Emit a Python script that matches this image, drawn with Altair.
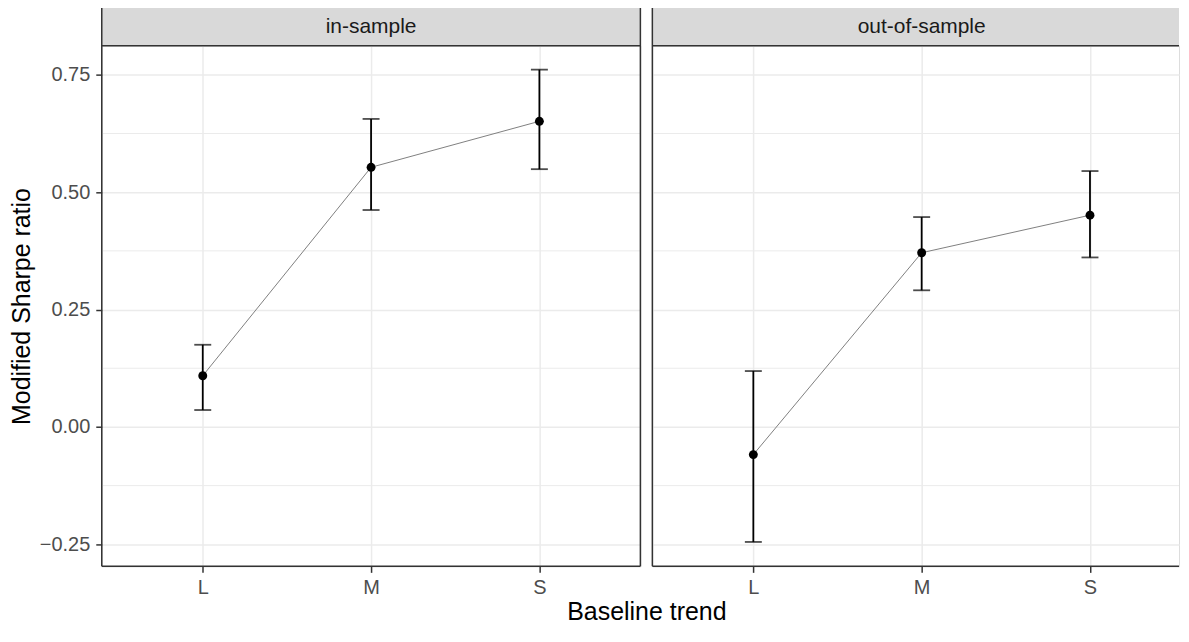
import altair as alt
import pandas as pd

# ---- data ----
trend = ["L", "M", "S"]
in_est = [0.109, 0.553, 0.651]
in_lo = [0.036, 0.462, 0.549]
in_hi = [0.175, 0.656, 0.761]
out_est = [-0.059, 0.371, 0.451]
out_lo = [-0.245, 0.291, 0.361]
out_hi = [0.119, 0.447, 0.545]
y_ticks = [-0.25, 0.0, 0.25, 0.5, 0.75]
y_minor = [-0.125, 0.125, 0.375, 0.625]
y_domain = [-0.297, 0.812]

FONT = "Liberation Sans"
BORDER = "#333333"
GRID = "#EBEBEB"
H = 522
W_FULL = 540
W_RIGHT = 528
TICK_FS = 20
STRIP_FS = 21
TITLE_FS = 25


def panel(name, est, lo, hi, width, first):
    df = pd.DataFrame({"trend": trend, "est": est, "lo": lo, "hi": hi})
    minor = pd.DataFrame({"y": y_minor})
    one = pd.DataFrame({"panel": [name]})

    if first:
        xscale = alt.Scale(type="point", domain=trend, padding=0.6)
    else:
        # same category spacing as the left panel, panel cut off at the right edge
        xscale = alt.Scale(type="point", domain=trend, padding=0.5644, align=0.5315)
    yscale = alt.Scale(domain=y_domain, nice=False, zero=False)

    if first:
        yaxis = alt.Axis(values=y_ticks, format=".2f", title="Modified Sharpe ratio",
                         labelFontSize=TICK_FS, labelColor="#4D4D4D", labelFont=FONT,
                         titleFontSize=TITLE_FS, titleFont=FONT, titleFontWeight="normal",
                         titleColor="#000000", titlePadding=5,
                         tickSize=6, tickColor=BORDER, tickWidth=1.5, labelPadding=6,
                         domain=False, grid=True, gridColor=GRID, gridWidth=1.5)
        xaxis = alt.Axis(title="Baseline trend", titleX=546, titleAlign="center",
                         titleFontSize=TITLE_FS, titleFont=FONT, titleFontWeight="normal",
                         titleColor="#000000", titlePadding=2,
                         labelAngle=0, labelFontSize=TICK_FS, labelColor="#4D4D4D", labelFont=FONT,
                         tickSize=6, tickColor=BORDER, tickWidth=1.5, labelPadding=5,
                         domain=False, grid=True, gridColor=GRID, gridWidth=1.5)
    else:
        yaxis = alt.Axis(values=y_ticks, labels=False, ticks=False, title=None,
                         domain=False, grid=True, gridColor=GRID, gridWidth=1.5)
        xaxis = alt.Axis(title=None, labelAngle=0, labelFontSize=TICK_FS, labelColor="#4D4D4D",
                         labelFont=FONT, tickSize=6, tickColor=BORDER, tickWidth=1.5,
                         labelPadding=5, domain=False, grid=True, gridColor=GRID, gridWidth=1.5)

    base = alt.Chart(df).encode(x=alt.X("trend:N", scale=xscale, axis=xaxis))

    minor_grid = alt.Chart(minor).mark_rule(color=GRID, strokeWidth=1).encode(
        y=alt.Y("y:Q", scale=yscale, axis=yaxis),
        x=alt.value(0), x2=alt.value(width))

    line = base.mark_line(color="#808080", strokeWidth=1).encode(
        y=alt.Y("est:Q", scale=yscale))
    bars = base.mark_rule(color="#000000", strokeWidth=1.8).encode(
        y=alt.Y("lo:Q", scale=yscale), y2="hi:Q")
    cap_lo = base.mark_tick(color="#000000", thickness=1.8, size=17, orient="horizontal").encode(
        y=alt.Y("lo:Q", scale=yscale))
    cap_hi = base.mark_tick(color="#000000", thickness=1.8, size=17, orient="horizontal").encode(
        y=alt.Y("hi:Q", scale=yscale))
    pts = base.mark_circle(color="#000000", opacity=1, size=80).encode(
        y=alt.Y("est:Q", scale=yscale))

    strip = alt.Chart(one).mark_rect(fill="#D9D9D9", strokeWidth=0).encode(
        x=alt.value(0), x2=alt.value(width), y=alt.value(-40), y2=alt.value(0))
    strip_txt = alt.Chart(one).mark_text(font=FONT, fontSize=STRIP_FS, color="#1A1A1A",
                                         baseline="middle", align="center").encode(
        text="panel:N", x=alt.value(W_FULL / 2), y=alt.value(-19))

    b = alt.Chart(one)
    bstyle = dict(color=BORDER, strokeWidth=1.5)
    borders = [
        b.mark_rule(**bstyle).encode(x=alt.value(0), x2=alt.value(width), y=alt.value(-40)),
        b.mark_rule(**bstyle).encode(x=alt.value(0), x2=alt.value(width), y=alt.value(0)),
        b.mark_rule(**bstyle).encode(x=alt.value(0), x2=alt.value(width), y=alt.value(H)),
        b.mark_rule(**bstyle).encode(x=alt.value(0), y=alt.value(-40), y2=alt.value(H)),
    ]
    if first:
        borders.append(b.mark_rule(**bstyle).encode(x=alt.value(width), y=alt.value(-40), y2=alt.value(H)))

    return alt.layer(minor_grid, line, bars, cap_lo, cap_hi, pts, strip, strip_txt, *borders).properties(
        width=width, height=H)


left = panel("in-sample", in_est, in_lo, in_hi, W_FULL, True)
right = panel("out-of-sample", out_est, out_lo, out_hi, W_RIGHT, False)

chart = alt.hconcat(left, right, spacing=12, bounds="flush").resolve_scale(
    x="independent", y="independent").properties(
    padding={"left": 0, "top": -5, "right": 0, "bottom": 0}
).configure_view(stroke=None).configure(background="white")

chart.save("out.html", embed_options={"renderer": "svg", "actions": False})
